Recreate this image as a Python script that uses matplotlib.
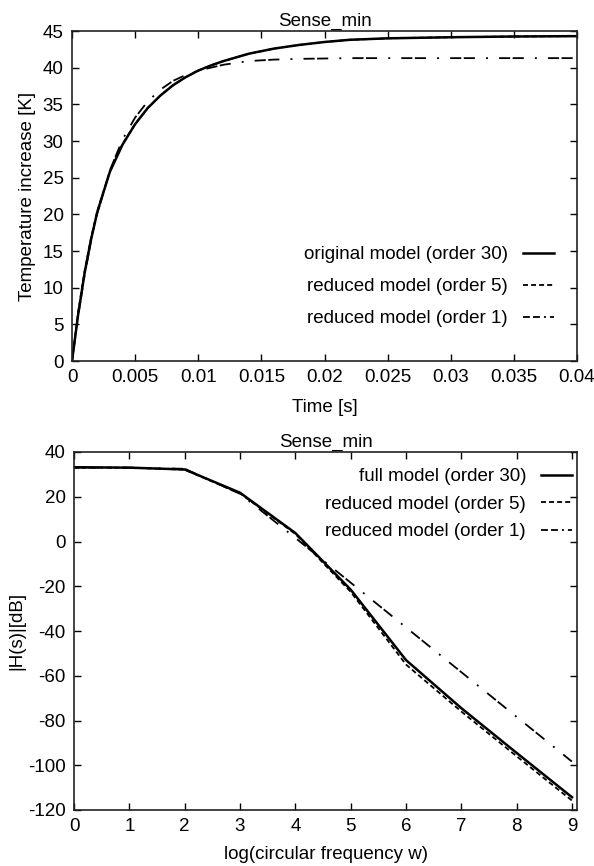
import matplotlib
matplotlib.use("Agg")
import matplotlib.pyplot as plt
from matplotlib.lines import Line2D

plt.rcParams['font.family'] = ['Liberation Sans', 'DejaVu Sans']
plt.rcParams['axes.unicode_minus'] = False
plt.rcParams['lines.scale_dashes'] = False

# ---------- top chart data (step response) ----------
t_orig = [0, 0.0005, 0.001, 0.0015, 0.002, 0.003, 0.004, 0.005, 0.006, 0.007,
          0.008, 0.009, 0.010, 0.011, 0.012, 0.014, 0.016, 0.018, 0.020, 0.022,
          0.025, 0.030, 0.035, 0.040]
T_orig = [0, 6.5, 12.0, 16.5, 20.3, 25.8, 29.5, 32.3, 34.5, 36.2,
          37.6, 38.7, 39.6, 40.3, 40.9, 41.9, 42.6, 43.1, 43.5, 43.8,
          44.0, 44.15, 44.25, 44.3]
T_red5 = [0, 6.8, 12.3, 16.7, 20.4, 25.9, 29.6, 32.3, 34.5, 36.2,
          37.6, 38.7, 39.6, 40.3, 40.9, 41.9, 42.6, 43.1, 43.5, 43.8,
          44.0, 44.15, 44.25, 44.3]
T_red1 = [0, 6.3, 11.7, 16.3, 20.1, 26.0, 30.2, 33.2, 35.4, 37.0,
          38.2, 39.0, 39.6, 40.0, 40.4, 40.9, 41.1, 41.2, 41.25, 41.3,
          41.3, 41.3, 41.3, 41.3]

# ---------- bottom chart data (frequency response) ----------
logw = [0, 1, 2, 3, 4, 5, 6, 7, 8, 9]
H_full = [33.2, 33.0, 32.2, 21.8, 3.8, -21.5, -53.0, -74.5, -94.5, -114.3]
H_red5 = [33.0, 33.0, 32.1, 21.5, 3.4, -22.5, -55.0, -76.0, -96.0, -115.8]
H_red1 = [33.0, 33.0, 32.5, 21.3, 1.6, -18.4, -38.4, -58.4, -78.4, -98.4]

top_labels = ['original model (order 30)', 'reduced model (order 5)', 'reduced model (order 1)']
bot_labels = ['full model (order 30)', 'reduced model (order 5)', 'reduced model (order 1)']

FS = 13.5
dash5 = (0, (3.6, 2.2))
dashdot1 = (0, (8, 1.8, 8, 8, 1.4, 8))
dashdot1_leg = (0, (5, 2.2, 5, 2.9, 1.4, 2.9))

fig = plt.figure(figsize=(5.94, 8.66), dpi=100)

def style(ax):
    ax.tick_params(direction='in', top=True, right=True, length=5, width=1,
                   labelsize=FS, pad=6, colors='black')
    for s in ax.spines.values():
        s.set_linewidth(1.2)
        s.set_color('#222222')

def proxies():
    return [Line2D([], [], color='black', lw=1.8),
            Line2D([], [], color='black', lw=1.3, linestyle=dash5),
            Line2D([], [], color='black', lw=1.3, linestyle=dashdot1_leg)]

# top
ax1 = fig.add_axes([72/594, 1-361/866, 505/594, 330/866])
ax1.plot(t_orig, T_orig, color='black', lw=1.8)
ax1.plot(t_orig, T_red5, color='black', lw=1.3, linestyle=dash5)
ax1.plot(t_orig, T_red1, color='black', lw=1.3, linestyle=dashdot1)
ax1.set_xlim(0, 0.04)
ax1.set_ylim(0, 45)
ax1.set_xticks([0, 0.005, 0.01, 0.015, 0.02, 0.025, 0.03, 0.035, 0.04])
ax1.set_xticklabels(['0', '0.005', '0.01', '0.015', '0.02', '0.025', '0.03', '0.035', '0.04'])
ax1.set_yticks(range(0, 46, 5))
ax1.set_xlabel('Time [s]', fontsize=FS, labelpad=9)
ax1.set_ylabel('Temperature increase [K]', fontsize=FS, labelpad=5)
ax1.set_title('Sense_min', fontsize=FS, pad=4)
style(ax1)
ax1.legend(proxies(), top_labels, loc='upper right', bbox_to_anchor=(0.954, 0.348),
           frameon=False, markerfirst=False, fontsize=FS, handlelength=1.65,
           handletextpad=0.8, labelspacing=0.79, borderpad=0, borderaxespad=0)

# bottom
ax2 = fig.add_axes([74/594, 1-810/866, 503/594, 358/866])
ax2.plot(logw, H_full, color='black', lw=1.8)
ax2.plot(logw, H_red5, color='black', lw=1.3, linestyle=dash5)
ax2.plot(logw, H_red1, color='black', lw=1.3, linestyle=dashdot1)
ax2.set_xlim(0, 9.09)
ax2.set_ylim(-120, 40)
ax2.set_xticks(range(0, 10))
ax2.set_yticks(range(-120, 41, 20))
ax2.set_xlabel('log(circular frequency w)', fontsize=FS, labelpad=8)
ax2.set_ylabel('|H(s)|[dB]', fontsize=FS, labelpad=2)
ax2.set_title('Sense_min', fontsize=FS, pad=4)
style(ax2)
ax2.legend(proxies(), bot_labels, loc='upper right', bbox_to_anchor=(0.99, 0.955),
           frameon=False, markerfirst=False, fontsize=FS, handlelength=1.65,
           handletextpad=0.8, labelspacing=0.56, borderpad=0, borderaxespad=0)

fig.savefig('out.png', dpi=100)
